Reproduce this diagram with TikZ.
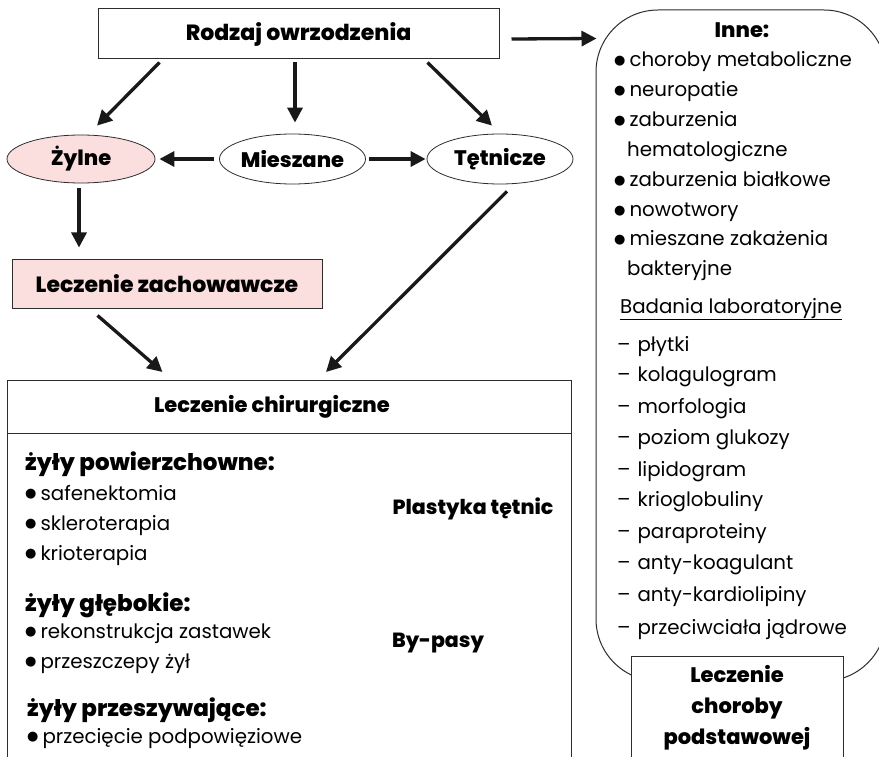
\documentclass[tikz,border=0pt]{standalone}
\usepackage{fontspec}
\setmainfont{Poppins}[BoldFont = {Poppins ExtraBold}]
\newfontfamily\symfont{DejaVu Sans}
\usetikzlibrary{arrows.meta, shapes.geometric}
\definecolor{ulcerpink}{RGB}{251,222,222}
\definecolor{inkgray}{RGB}{45,45,45}
\newcommand{\bul}{\raisebox{2.3pt}{\fontsize{13}{13}\symfont ●}\hspace{4pt}}
\newcommand{\dsh}{–\hspace{7pt}}

\begin{document}
\begin{tikzpicture}[x=1pt, y=-1pt,
  block/.style = {rectangle, draw=inkgray, line width=1pt, fill=white, inner sep=0pt},
  oval/.style = {ellipse, draw=inkgray, line width=0.8pt, inner sep=0pt, font=\bfseries\fontsize{21}{25}\selectfont},
  arrow/.style = {-{Triangle[length=15pt, width=15pt]}, line width=3.3pt, black!90},
  heading/.style = {inner sep=0pt, font=\bfseries\fontsize{21}{25}\selectfont},
  entry/.style = {anchor=base west, inner sep=0pt, font=\fontsize{19.8}{23}\selectfont},
  subhead/.style = {anchor=base west, inner sep=0pt, font=\bfseries\fontsize{23}{27}\selectfont}
]
  \useasboundingbox (0,0) rectangle (879,757);

  \node[block, minimum width = 401pt, minimum height = 50pt, font=\bfseries\fontsize{22}{25}\selectfont] (rodzaj) at (298.5, 34) {Rodzaj owrzodzenia};
  \node[oval, fill = ulcerpink, minimum width = 148pt, minimum height = 48pt] (zylne)    at (81,    159) {Żylne};
  \node[oval, minimum width = 145pt, minimum height = 50pt]                  (mieszane) at (292.5, 159) {Mieszane};
  \node[oval, minimum width = 146pt, minimum height = 50pt]                  (tetnicze) at (500,   159) {Tętnicze};
  \node[block, fill = ulcerpink, minimum width = 310pt, minimum height = 49pt, font=\bfseries\fontsize{22}{25}\selectfont] (zachow) at (167, 283.5) {Leczenie zachowawcze};

  \node[block, minimum width = 564pt, minimum height = 400pt, anchor = north] (chir) at (289, 380) {};
  \draw[draw = inkgray, line width = 1pt] ([yshift = -53pt]chir.north west) -- ([yshift = -53pt]chir.north east);
  \node[heading] (chirtitle) at (272, 407) {Leczenie chirurgiczne};

  \node[block, rounded corners = 62pt, minimum width = 290pt, minimum height = 671pt] (inne) at (741, 345.5) {};
  \node[block, minimum width = 212pt, minimum height = 124pt, anchor = north] (podst) at (737, 656) {};
  \node[heading, align = center, font = \bfseries\fontsize{21}{31}\selectfont] (podsttext) at (737, 708) {Leczenie\\choroby\\podstawowej};

  % arrows
  \draw[arrow] ([xshift = 62pt, yshift = -3pt]rodzaj.south west) -- ([xshift = 16pt, yshift = 9pt]zylne.north);
  \draw[arrow] ([xshift = -3.5pt, yshift = -3pt]rodzaj.south)    -- ([xshift = 2.5pt, yshift = 11pt]mieszane.north);
  \draw[arrow] ([xshift = -72pt, yshift = -3pt]rodzaj.south east) -- ([xshift = -8pt, yshift = 8pt]tetnicze.north);
  \draw[arrow] ([xshift = 12pt, yshift = -5pt]rodzaj.east)       -- ([xshift = 1pt, yshift = -29pt]inne.north west);
  \draw[arrow] ([xshift = -5pt]mieszane.west) -- ([xshift = 4pt]zylne.east);
  \draw[arrow] ([xshift = 3pt]mieszane.east)  -- ([xshift = -1pt]tetnicze.west);
  \draw[arrow] ([xshift = -2pt, yshift = -5pt]zylne.south) -- ([xshift = -88pt, yshift = 11pt]zachow.north);
  \draw[arrow] ([xshift = 86pt, yshift = -7pt]zachow.south west) -- ([xshift = 156pt, yshift = 8pt]chir.north west);
  \draw[arrow] ([xshift = 7pt, yshift = -7pt]tetnicze.south) -- ([xshift = 37pt, yshift = 8pt]chir.north);

  % surgical treatment
  \node[subhead] (powhead) at (25, 470) {żyły powierzchowne:};
  \node[entry] (safen)  at (25, 500) {\bul safenektomia};
  \node[entry] (sklero) at (25, 530) {\bul skleroterapia};
  \node[entry] (krio)   at (25, 560) {\bul krioterapia};
  \node[subhead] (glhead) at (25, 611) {żyły głębokie:};
  \node[entry] (rekon)  at (25, 638) {\bul rekonstrukcja zastawek};
  \node[entry] (przesz) at (25, 668) {\bul przeszczepy żył};
  \node[subhead] (perfhead) at (27, 716) {żyły przeszywające:};
  \node[entry] (przec)  at (27, 743) {\bul przecięcie podpowięziowe};
  \node[heading, font = \bfseries\fontsize{20.5}{24}\selectfont] (plast)  at (473, 509) {Plastyka tętnic};
  \node[heading, font = \bfseries\fontsize{20.5}{24}\selectfont] (bypass) at (438, 643) {By-pasy};

  % other causes
  \node[heading] (innehead) at (742, 30) {Inne:};
  \node[entry] (metab)  at (614, 67)  {\bul choroby metaboliczne};
  \node[entry] (neuro)  at (614, 97)  {\bul neuropatie};
  \node[entry] (hemat)  at (614, 127) {\bul zaburzenia};
  \node[entry] (hemat2) at (627, 157) {hematologiczne};
  \node[entry] (bialk)  at (614, 187) {\bul zaburzenia białkowe};
  \node[entry] (nowot)  at (614, 217) {\bul nowotwory};
  \node[entry] (bakt)   at (614, 246) {\bul mieszane zakażenia};
  \node[entry] (bakt2)  at (627, 275) {bakteryjne};
  \node[entry] (badhead) at (620, 313) {\underline{Badania laboratoryjne}};
  \node[entry] (plytki) at (617, 351) {\dsh płytki};
  \node[entry] (kolag)  at (617, 381) {\dsh kolagulogram};
  \node[entry] (morf)   at (617, 413) {\dsh morfologia};
  \node[entry] (gluk)   at (617, 444) {\dsh poziom glukozy};
  \node[entry] (lipid)  at (617, 476) {\dsh lipidogram};
  \node[entry] (krioglob) at (617, 506) {\dsh krioglobuliny};
  \node[entry] (parapr) at (617, 538) {\dsh paraproteiny};
  \node[entry] (koag)   at (617, 569) {\dsh anty-koagulant};
  \node[entry] (kardio) at (617, 601) {\dsh anty-kardiolipiny};
  \node[entry] (jadr)   at (617, 634) {\dsh przeciwciała jądrowe};
\end{tikzpicture}
\end{document}
